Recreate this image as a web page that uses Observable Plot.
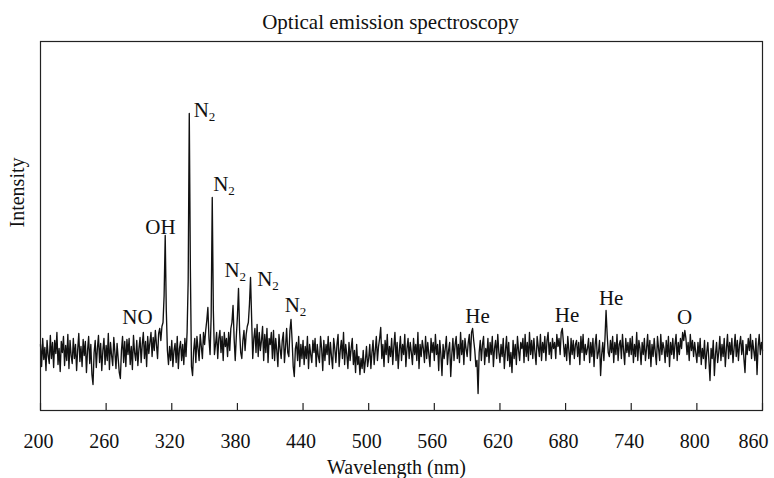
<!DOCTYPE html>
<html>
<head>
<meta charset="utf-8">
<script src="https://cdn.jsdelivr.net/npm/d3@7"></script>
<script src="https://cdn.jsdelivr.net/npm/@observablehq/plot@0.6"></script>
<style>
  html, body { margin: 0; padding: 0; background: #fff; }
</style>
</head>
<body>
<div id="chart"></div>
<script>
// Spectrum, 1 nm steps starting at 200 nm (arbitrary intensity units)
const startWavelength = 200;
const seg200 = [
  66,44,72,51,63,40,70,55,47,75, 52,68,43,70,57,78,46,62,39,69,
  58,74,45,65,50,76,42,70,55,47, 72,52,66,40,61,77,49,64,44,71,
  55,69,38,60,74,47,66,36,26,58, 70,43,62,75,48,67,40,60,72,46,
  65,50,77,41,68,55,45,73,58,42, 67,52,38,32,60,74,48,69,44,71,
  56,72,46,64,41,75,58,50,70,45, 62,73,48,66,78,52,69,44,74,57
];
const seg300 = [
  68,78,54,73,60,80,66,52,77,82, 70,84,88,115,175,100,60,46,64,50,
  70,44,60,67,48,74,42,62,69,50, 66,46,72,54,78,130,297,142,44,35,
  60,72,48,74,62,50,76,64,52,78, 66,80,90,103,72,56,94,213,100,56,
  66,78,52,72,80,58,74,50,78,64, 72,54,78,60,82,88,105,72,50,74,
  94,122,80,58,52,70,80,60,76,84, 88,106,133,92,52,72,82,58,86,54
];
const seg400 = [
  78,60,70,84,50,76,58,82,48,72, 66,78,52,80,50,72,60,44,76,62,
  52,70,78,48,64,82,58,54,80,91, 70,44,34,62,68,50,74,44,66,52,
  70,46,64,52,74,42,66,56,48,70, 58,72,44,66,54,48,74,62,40,70,
  50,66,56,74,46,68,54,42,72,62, 48,66,76,44,60,70,52,78,46,66,
  56,42,68,50,62,72,46,60,38,66, 46,54,36,52,42,60,38,50,64,44
];
const seg500 = [
  52,66,42,58,70,46,60,74,50,64, 72,83,52,66,44,70,56,76,48,64,
  54,72,46,64,78,50,68,42,60,74, 50,66,56,76,44,62,72,52,68,58,
  46,72,56,66,50,78,42,66,54,70, 62,48,74,52,68,56,44,72,58,68,
  50,76,56,66,40,70,56,35,66,52, 62,74,46,60,68,34,56,72,50,66,
  74,52,66,48,78,56,70,46,72,62, 54,68,76,50,78,82,70,60,44,50
];
const seg600 = [
  17,58,70,50,66,74,46,62,54,72, 48,68,56,74,44,62,70,52,76,58,
  48,66,54,72,42,60,74,50,68,44, 58,38,70,52,66,46,74,60,50,68,
  62,72,48,76,54,68,50,78,56,70, 52,72,58,46,74,64,54,76,50,68,
  58,74,50,70,78,56,68,52,72,62, 68,52,76,64,72,56,78,82,68,54,
  66,50,74,60,46,72,56,70,52,66, 70,54,68,46,74,58,76,50,66,56
];
const seg700 = [
  62,72,48,68,54,72,44,66,76,52, 58,70,35,56,68,50,72,100,76,58,
  54,70,58,74,48,68,56,76,50,66, 70,52,76,60,46,72,58,68,54,72,
  56,74,48,66,54,78,50,70,62,46, 68,56,72,50,62,76,52,70,44,66,
  54,72,58,46,74,62,50,76,56,68, 62,48,70,54,74,44,68,56,72,52,
  66,76,50,68,56,72,62,78,70,80, 72,56,68,50,76,60,70,54,68,58
];
const seg800 = [
  48,68,54,72,46,62,52,70,42,58, 68,50,30,62,52,70,35,56,68,48,
  58,74,50,66,54,72,44,62,76,52, 68,56,72,48,62,76,54,70,50,66,
  74,56,70,52,38,66,56,72,60,76, 52,70,60,50,72,36,64,76,56,68,
  60
];

const xTicks = [200, 260, 320, 380, 440, 500, 560, 620, 680, 740, 800, 860];
const xTickLabelsInner = [200, 260, 320, 380, 440, 500, 560, 620, 680, 740, 800];
const xTickLabelLast = [860];

// Peak annotations
const plainLabels = [
  {x: 288.7, y: 93,  text: "NO"},
  {x: 309.7, y: 183, text: "OH"},
  {x: 599.5, y: 94,  text: "He"},
  {x: 681.4, y: 95,  text: "He"},
  {x: 721.7, y: 112, text: "He"},
  {x: 788.7, y: 93,  text: "O"}
];
const n2Labels = [
  {x: 340.1, y: 300},
  {x: 357.9, y: 226},
  {x: 368.2, y: 140},
  {x: 398.1, y: 131},
  {x: 423.3, y: 105}
];
const yLabelPos = [{x: 200, y: 218, text: "Intensity"}];

const intensity = [...seg200, ...seg300, ...seg400, ...seg500, ...seg600, ...seg700, ...seg800];
const spectrum = intensity.map((v, i) => ({wl: startWavelength + i, v}));

const font = "'Liberation Serif', 'Times New Roman', serif";
const ink = "#111";

const chart = Plot.plot({
  width: 774,
  height: 478,
  marginLeft: 40,
  marginRight: 12,
  marginTop: 41,
  marginBottom: 68,
  style: {fontFamily: font, fontSize: "20px", background: "#fff", color: ink},
  x: {domain: [200, 860]},
  y: {domain: [0, 369], axis: null},
  marks: [
    Plot.line(spectrum, {x: "wl", y: "v", stroke: ink, strokeWidth: 1.35}),
    Plot.frame({stroke: "#222", strokeWidth: 1.2}),
    Plot.ruleX(xTicks, {x: d => d, y1: 0, y2: 7, stroke: "#222", strokeWidth: 1.2}),
    Plot.axisX(xTickLabelsInner, {tickSize: 0, tickPadding: 23, dx: -2, fontSize: 20, fontFamily: font, fill: ink, label: null}),
    Plot.text(xTickLabelLast, {x: d => d, text: d => String(d), frameAnchor: "bottom", lineAnchor: "top", dy: 23, dx: -9, fontSize: 20, fontFamily: font, fill: ink}),
    Plot.text(["Wavelength (nm)"], {frameAnchor: "bottom", lineAnchor: "middle", textAnchor: "middle", dx: -5, dy: 57, fontSize: 20, fontFamily: font, fill: ink}),
    Plot.text(["Optical emission spectroscopy"], {frameAnchor: "top", lineAnchor: "middle", textAnchor: "middle", dx: -11, dy: -19, fontSize: 21, fontFamily: font, fill: ink}),
    Plot.text(yLabelPos, {x: "x", y: "y", text: "text", rotate: -90, textAnchor: "middle", lineAnchor: "middle", dx: -23, fontSize: 20, fontFamily: font, fill: ink}),
    Plot.text(plainLabels, {x: "x", y: "y", text: "text", fontSize: 21, fontFamily: font, fill: ink}),
    Plot.text(n2Labels, {x: "x", y: "y", text: () => "N", textAnchor: "start", fontSize: 21, fontFamily: font, fill: ink}),
    Plot.text(n2Labels, {x: "x", y: "y", text: () => "2", textAnchor: "start", dx: 15, dy: 6, fontSize: 13, fontFamily: font, fill: ink})
  ]
});
document.getElementById("chart").appendChild(chart);
</script>
</body>
</html>
